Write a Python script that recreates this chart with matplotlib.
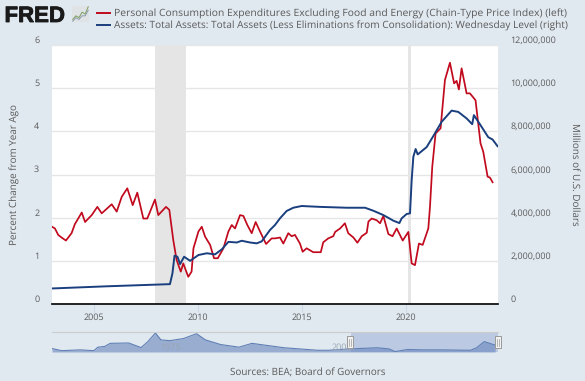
import matplotlib
matplotlib.use('Agg')
import matplotlib.pyplot as plt
from matplotlib.patches import Rectangle
from matplotlib.ticker import FuncFormatter
import matplotlib.patheffects as pe

plt.rcParams['font.family'] = ['Open Sans', 'DejaVu Sans']
plt.rcParams['text.hinting'] = 'no_hinting'

# core PCE, percent change from year ago (left axis)
pce_years = [2002.98, 2003.12, 2003.28, 2003.44, 2003.65, 2003.92, 2004.08, 2004.24, 2004.41, 2004.57,
             2004.89, 2005.16, 2005.37, 2005.85, 2006.09, 2006.33, 2006.60, 2006.86, 2007.08, 2007.37,
             2007.56, 2007.93, 2008.09, 2008.46, 2008.62, 2008.81, 2008.97, 2009.17, 2009.29, 2009.53,
             2009.69, 2009.78, 2010.02, 2010.18, 2010.34, 2010.58, 2010.77, 2010.95, 2011.22, 2011.46,
             2011.62, 2011.78, 2012.02, 2012.18, 2012.37, 2012.58, 2012.77, 2012.98, 2013.27, 2013.54,
             2013.70, 2013.94, 2014.10, 2014.34, 2014.50, 2014.66, 2014.90, 2015.03, 2015.22, 2015.54,
             2015.90, 2016.02, 2016.26, 2016.50, 2016.59, 2016.83, 2017.06, 2017.22, 2017.47, 2017.66,
             2017.87, 2018.11, 2018.19, 2018.35, 2018.59, 2018.75, 2018.91, 2019.15, 2019.35, 2019.55,
             2019.84, 2020.11, 2020.27, 2020.43, 2020.62, 2020.80, 2021.07, 2021.15, 2021.26, 2021.42,
             2021.66, 2021.87, 2022.11, 2022.31, 2022.43, 2022.54, 2022.67, 2022.91, 2023.07, 2023.34,
             2023.58, 2023.71, 2023.92, 2024.03, 2024.16]
pce_values = [1.79, 1.75, 1.60, 1.54, 1.47, 1.64, 1.85, 1.98, 2.12, 1.90,
              2.06, 2.25, 2.10, 2.31, 2.14, 2.48, 2.68, 2.29, 2.58, 1.98,
              1.98, 2.42, 2.06, 2.25, 2.18, 1.48, 1.02, 0.75, 0.94, 0.63,
              0.75, 1.29, 1.68, 1.79, 1.56, 1.37, 1.06, 1.06, 1.29, 1.68,
              1.83, 1.75, 2.06, 2.04, 1.83, 1.64, 1.90, 1.68, 1.39, 1.52,
              1.52, 1.54, 1.40, 1.64, 1.57, 1.60, 1.40, 1.21, 1.29, 1.20,
              1.20, 1.43, 1.52, 1.57, 1.67, 1.75, 1.87, 1.64, 1.54, 1.42,
              1.57, 1.65, 1.91, 1.98, 1.94, 1.87, 2.04, 1.62, 1.57, 1.75,
              1.47, 1.67, 0.94, 0.90, 1.40, 1.37, 1.75, 2.25, 3.18, 3.95,
              4.07, 5.19, 5.59, 5.11, 5.17, 4.97, 5.46, 4.88, 4.88, 4.72,
              3.72, 3.53, 2.95, 2.93, 2.82]

# Fed total assets, millions of dollars (right axis)
assets_years = [2002.98, 2005.61, 2008.65, 2008.77, 2008.87, 2009.01, 2009.14, 2009.33, 2009.62, 2010.02,
                2010.42, 2010.82, 2011.14, 2011.46, 2011.86, 2012.10, 2012.50, 2012.82, 2013.06, 2013.46,
                2013.70, 2013.94, 2014.26, 2014.58, 2014.98, 2015.86, 2017.14, 2018.03, 2018.43, 2018.91,
                2019.39, 2019.68, 2019.79, 2020.03, 2020.19, 2020.27, 2020.35, 2020.46, 2020.56, 2020.99,
                2021.31, 2021.71, 2022.19, 2022.51, 2022.91, 2023.18, 2023.26, 2023.55, 2023.95, 2024.16, 2024.40]
assets_values = [720000, 820000, 920000, 1420000, 2240000, 2190000, 1850000, 2190000, 2000000, 2270000,
                 2350000, 2300000, 2530000, 2880000, 2850000, 2930000, 2850000, 2810000, 2900000, 3430000,
                 3660000, 3970000, 4310000, 4460000, 4540000, 4500000, 4460000, 4460000, 4320000, 4120000,
                 3860000, 3750000, 3970000, 4170000, 4200000, 5740000, 6820000, 7180000, 6930000, 7270000,
                 7780000, 8440000, 8960000, 8900000, 8600000, 8330000, 8750000, 8330000, 7730000, 7620000, 7310000]

# long history shown in the navigator strip
nav_years = [1959.3, 1960.7, 1963.4, 1965.4, 1966.0, 1967.0, 1967.8, 1970.5, 1972.3, 1973.3,
             1974.4, 1975.2, 1976.5, 1978.5, 1980.4, 1981.7, 1983.9, 1986.6, 1988.5, 1989.9,
             1993.2, 1998.1, 1999.7, 2002.7, 2006.8, 2008.5, 2009.4, 2011.2, 2013.4, 2016.1,
             2020.4, 2021.3, 2022.4, 2024.0]
nav_values = [1.8, 0.7, 1.1, 0.7, 2.5, 2.9, 4.5, 4.7, 2.3, 5.4,
              9.9, 6.3, 5.9, 7.0, 9.5, 6.3, 3.9, 2.5, 4.5, 3.8,
              2.2, 0.9, 0.9, 1.6, 2.2, 1.6, 0.2, 1.3, 1.1, 1.1,
              0.9, 2.2, 5.4, 3.6]

recessions = [(2007.92, 2009.42), (2020.08, 2020.25)]
left_ticks = [0, 1, 2, 3, 4, 5, 6]
right_ticks = [0, 2000000, 4000000, 6000000, 8000000, 10000000, 12000000]
year_ticks = [2005, 2010, 2015, 2020]

BG = '#e1e9f0'
TEXT = '#595959'
RED = '#c10a1e'
BLUE = '#1a3f7e'
W, H = 585, 381
TICK_SIZE = 6.5

def box(left, top, right, bottom):
    return [left / W, 1 - bottom / H, (right - left) / W, (bottom - top) / H]

fig = plt.figure(figsize=(W / 100, H / 100), dpi=100, facecolor=BG)

ax = fig.add_axes(box(52, 45, 498, 304))
ax.set_xlim(2002.98, 2024.42)
ax.set_ylim(0, 6)
ax.set_yticks(left_ticks)
ax.grid(axis='y', color='#e6e6e6', lw=1)
ax.set_axisbelow(True)
for a, b in recessions:
    ax.axvspan(a, b, color='#e5e5e5', lw=0, zorder=0.5)
for s in ['top', 'left', 'right']:
    ax.spines[s].set_visible(False)
ax.spines['bottom'].set_color('black')
ax.spines['bottom'].set_linewidth(1.2)
ax.set_xticks(year_ticks)
ax.tick_params(axis='x', length=6, color='#ccd6eb', labelsize=TICK_SIZE, labelcolor=TEXT, pad=0.5)
ax.tick_params(axis='y', length=0, labelsize=TICK_SIZE, labelcolor=TEXT, pad=9.2)
for t in ax.get_yticklabels():
    t.set_va('bottom')
ax.set_ylabel('Percent Change from Year Ago', fontsize=7.1, color=TEXT, va='center')
ax.yaxis.set_label_coords((15 - 52) / 446, 0.5)

ax2 = ax.twinx()
ax2.set_ylim(0, 12000000)
ax2.set_yticks(right_ticks)
ax2.yaxis.set_major_formatter(FuncFormatter(lambda v, p: f'{int(v):,}'))
ax2.tick_params(axis='y', length=0, labelsize=TICK_SIZE, labelcolor=TEXT, pad=9.1)
for t in ax2.get_yticklabels():
    t.set_va('bottom')
ax2.set_ylabel('Millions of U.S. Dollars', fontsize=7.1, color=TEXT, rotation=270, va='center')
ax2.yaxis.set_label_coords((575 - 52) / 446, 0.5)
for s in ax2.spines.values():
    s.set_visible(False)

ax.plot(pce_years, pce_values, color=RED, lw=1.25, zorder=3)
ax2.plot(assets_years, assets_values, color=BLUE, lw=1.4, zorder=4)

# header
logo = fig.text(4.5 / W, 1 - 22 / H, 'FRED', fontsize=16, fontweight='bold', color='#1a1a1a', family='Liberation Sans')
logo.set_path_effects([pe.withStroke(linewidth=0.6, foreground='#1a1a1a')])
icon = fig.add_axes(box(72, 6, 89, 22), facecolor='#dfe3e6')
icon.plot([0, 1, 2, 3, 4, 5], [1, 2, 1.5, 3, 2.5, 4.5], color='#7f9f5f', lw=0.7)
icon.plot([0, 1, 2, 3, 4, 5], [0.5, 1.5, 1, 2, 2, 3.5], color='#8a9aa8', lw=0.7)
icon.set_xticks([])
icon.set_yticks([])
for s in icon.spines.values():
    s.set_visible(False)

fig.add_artist(plt.Line2D([97 / W, 110 / W], [1 - 12.7 / H, 1 - 12.7 / H], color=RED, lw=1.4))
fig.add_artist(plt.Line2D([97 / W, 110 / W], [1 - 25 / H, 1 - 25 / H], color=BLUE, lw=1.4))
fig.text(114 / W, 1 - 13.5 / H, 'Personal Consumption Expenditures Excluding Food and Energy (Chain-Type Price Index) (left)',
         fontsize=7.5, color=TEXT, va='center')
fig.text(114 / W, 1 - 25.5 / H, 'Assets: Total Assets: Total Assets (Less Eliminations from Consolidation): Wednesday Level (right)',
         fontsize=7.3, color=TEXT, va='center')

# navigator
nav = fig.add_axes(box(52, 332, 498, 352), facecolor='none')
nav.set_xlim(1959.3, 2024.42)
nav.set_ylim(0, 10.4)
nav.fill_between(nav_years, nav_values, 0, color='#98adcf', lw=0)
nav.plot(nav_years, nav_values, color='#5f7fb5', lw=0.8)
nav.axvspan(2002.98, 2024.42, color='#6685c2', alpha=0.3, lw=0)
nav.text(1975.1, 2.4, '1975', fontsize=TICK_SIZE, color='#9aa5b5', ha='left', va='center')
nav.text(2000.1, 2.4, '2000', fontsize=TICK_SIZE, color='#9aa5b5', ha='left', va='center')
nav.set_xticks([])
nav.set_yticks([])
for s in ['left', 'right', 'bottom']:
    nav.spines[s].set_visible(False)
nav.spines['top'].set_color('#cccccc')

# navigator handles
for left in [347, 495]:
    fig.add_artist(Rectangle((left / W, 1 - 348 / H), 6 / W, 12 / H, transform=fig.transFigure,
                             facecolor='#f2f2f2', edgecolor='#999999', lw=0.7, zorder=5))
    for dx in [2.2, 3.8]:
        fig.add_artist(plt.Line2D([(left + dx) / W] * 2, [1 - 345.5 / H, 1 - 338.5 / H],
                                  color='#999999', lw=0.5, zorder=6))

fig.text(308 / W, 1 - 372 / H, 'Sources: BEA; Board of Governors', fontsize=7.1, color=TEXT, ha='center', va='center')

fig.savefig('out.png', dpi=100, facecolor=BG)
